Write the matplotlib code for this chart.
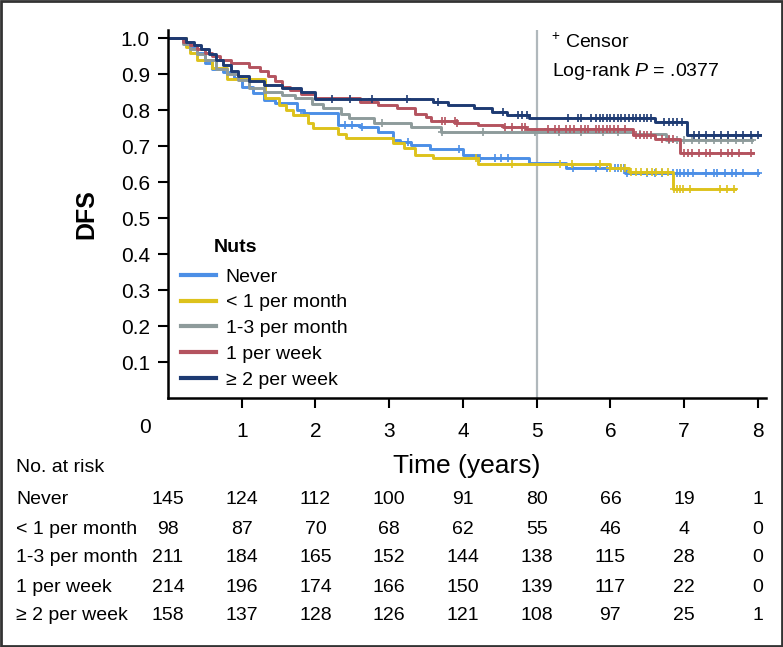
import numpy as np
import matplotlib
matplotlib.use('Agg')
import matplotlib.pyplot as plt
import matplotlib.transforms as mtransforms
from matplotlib.patches import Rectangle

plt.rcParams['font.family'] = ['Liberation Sans', 'DejaVu Sans']
plt.rcParams['mathtext.fontset'] = 'custom'
plt.rcParams['mathtext.it'] = 'Liberation Sans:italic'
plt.rcParams['mathtext.rm'] = 'Liberation Sans'

# Groups
groups = ['Never', '< 1 per month', '1-3 per month', '1 per week', '\u2265 2 per week']
colors = ['#4C8FE6', '#DDC21C', '#8E9B9B', '#B4535F', '#1D3A72']

# Kaplan-Meier steps (time in years, survival after each drop)
never_t = [0, 0.25, 0.3, 0.4, 0.5, 0.6, 0.75, 0.9, 1.0, 1.15, 1.3, 1.45, 1.75, 1.85, 2.3, 2.6,
           2.85, 3.05, 3.15, 3.3, 3.55, 4.0, 4.2, 4.9, 5.4, 6.2]
never_s = [1.0, 0.986, 0.972, 0.958, 0.93, 0.915, 0.905, 0.89, 0.865, 0.848, 0.828, 0.82, 0.80,
           0.792, 0.76, 0.754, 0.74, 0.717, 0.712, 0.703, 0.692, 0.676, 0.667, 0.653, 0.64, 0.625]
never_end = 8.0
never_c = [1.85, 2.4, 2.5, 2.63, 3.26, 3.94, 4.23, 4.43, 4.52, 4.61, 5.49, 5.81, 5.95, 6.06, 6.1,
           6.14, 6.18, 6.22, 6.5, 6.6, 6.7, 6.85, 6.9, 6.95, 7.0, 7.05, 7.12, 7.3, 7.4, 7.45, 7.55,
           7.65, 7.7, 7.8, 8.0]

month_lt1_t = [0, 0.24, 0.3, 0.4, 0.6, 0.8, 1.31, 1.5, 1.6, 1.7, 1.9, 1.97, 2.3, 2.42, 3.05, 3.2,
               3.35, 3.6, 4.2, 6.0, 6.25, 6.85]
month_lt1_s = [1.0, 0.976, 0.96, 0.94, 0.917, 0.887, 0.834, 0.815, 0.8, 0.787, 0.764, 0.75, 0.735,
               0.722, 0.709, 0.695, 0.676, 0.667, 0.65, 0.64, 0.628, 0.58]
month_lt1_end = 7.69
month_lt1_c = [4.18, 4.66, 5.32, 5.48, 5.86, 6.0, 6.14, 6.2, 6.28, 6.35, 6.42, 6.5, 6.56, 6.62, 6.7,
               6.78, 6.86, 6.9, 6.95, 6.99, 7.08, 7.49, 7.58, 7.67]

month_13_t = [0, 0.2, 0.3, 0.4, 0.5, 0.65, 0.8, 0.95, 1.1, 1.3, 1.55, 1.72, 1.95, 2.1, 2.35, 2.45,
              2.8, 3.3, 3.7, 6.3, 6.75]
month_13_s = [1.0, 0.985, 0.97, 0.955, 0.94, 0.915, 0.9, 0.885, 0.862, 0.852, 0.843, 0.834, 0.818,
              0.806, 0.79, 0.778, 0.764, 0.752, 0.74, 0.733, 0.717]
month_13_end = 7.92
month_13_c = [2.9, 3.72, 4.27, 4.98, 5.3, 5.6, 5.9, 6.1, 6.4, 6.8, 6.9, 7.0, 7.1, 7.2, 7.3, 7.4,
              7.5, 7.6, 7.7, 7.8, 7.92]

week1_t = [0, 0.2, 0.3, 0.4, 0.5, 0.6, 0.7, 0.85, 1.1, 1.25, 1.35, 1.45, 1.55, 1.65, 1.8, 2.0,
           2.6, 2.85, 3.1, 3.35, 3.5, 3.57, 3.9, 4.2, 4.55, 4.85, 6.3, 6.6, 6.95]
week1_s = [1.0, 0.99, 0.98, 0.97, 0.96, 0.95, 0.94, 0.93, 0.92, 0.91, 0.895, 0.88, 0.865, 0.855,
           0.845, 0.834, 0.823, 0.815, 0.806, 0.79, 0.78, 0.77, 0.764, 0.759, 0.754, 0.747, 0.731,
           0.72, 0.68]
week1_end = 7.93
week1_c = [3.72, 3.75, 3.89, 3.92, 4.57, 4.66, 4.8, 4.84, 5.15, 5.25, 5.3, 5.4, 5.45, 5.5, 5.6,
           5.65, 5.7, 5.8, 5.85, 5.9, 5.95, 6.0, 6.05, 6.1, 6.2, 6.35, 6.4, 6.45, 6.5, 6.55, 6.7,
           6.8, 6.85, 7.0, 7.05, 7.1, 7.2, 7.3, 7.35, 7.5, 7.6, 7.65, 7.75, 7.9]

week2_t = [0, 0.25, 0.35, 0.45, 0.55, 0.65, 0.75, 0.85, 0.95, 1.1, 1.3, 1.55, 1.8, 2.0, 3.6, 3.8,
           4.15, 4.4, 4.6, 4.9, 6.6, 7.04]
week2_s = [1.0, 0.99, 0.98, 0.97, 0.955, 0.94, 0.925, 0.91, 0.895, 0.88, 0.87, 0.862, 0.851,
           0.831, 0.823, 0.815, 0.806, 0.795, 0.787, 0.778, 0.767, 0.731]
week2_end = 8.03
week2_c = [2.22, 2.47, 2.76, 3.24, 3.66, 4.54, 4.75, 4.8, 4.87, 5.42, 5.56, 5.6, 5.74, 5.8, 5.86,
           5.9, 5.95, 6.0, 6.05, 6.1, 6.15, 6.2, 6.25, 6.3, 6.35, 6.4, 6.45, 6.5, 6.55, 6.72, 6.8,
           6.85, 6.9, 6.97, 7.13, 7.2, 7.3, 7.4, 7.5, 7.6, 7.7, 7.8, 7.9, 8.0]

# Number at risk table
risk_times = [0, 1, 2, 3, 4, 5, 6, 7, 8]
risk_never = [145, 124, 112, 100, 91, 80, 66, 19, 1]
risk_lt1 = [98, 87, 70, 68, 62, 55, 46, 4, 0]
risk_13 = [211, 184, 165, 152, 144, 138, 115, 28, 0]
risk_w1 = [214, 196, 174, 166, 150, 139, 117, 22, 0]
risk_w2 = [158, 137, 128, 126, 121, 108, 97, 25, 1]

curves = [
    (never_t, never_s, never_end, never_c),
    (month_lt1_t, month_lt1_s, month_lt1_end, month_lt1_c),
    (month_13_t, month_13_s, month_13_end, month_13_c),
    (week1_t, week1_s, week1_end, week1_c),
    (week2_t, week2_s, week2_end, week2_c),
]
risk_rows = [risk_never, risk_lt1, risk_13, risk_w1, risk_w2]

W, H = 783, 647
fig = plt.figure(figsize=(W / 100, H / 100), dpi=100)
ax = fig.add_axes([168 / W, 1 - 398 / H, (766 - 168) / W, (398 - 30) / H])

for (t, s, end, cens), col, name in zip(curves, colors, groups):
    t = np.array(t)
    s = np.array(s)
    ax.step(np.append(t, end), np.append(s, s[-1]), where='post', color=col, lw=2.1, label=name)
    c = np.array(cens)
    idx = np.searchsorted(t, c, side='right') - 1
    ax.plot(c, s[idx], ls='none', marker='+', ms=6, mew=1.2, color=col)

# 5-year reference line
ax.axvline(5, color='#B0B8BC', lw=1.6, zorder=0)

ax.set_xlim(0, 8.11)
ax.set_ylim(0, 1.023)
ax.set_xticks([1, 2, 3, 4, 5, 6, 7, 8])
ax.set_yticks(np.arange(0.1, 1.01, 0.1))
ax.set_yticklabels(['%.1f' % v for v in np.arange(0.1, 1.01, 0.1)])
ax.tick_params(axis='both', direction='out', length=7, width=1.5, labelsize=15, pad=6, colors='black')
ax.tick_params(axis='x', pad=10)
for side in ['top', 'right']:
    ax.spines[side].set_visible(False)
for side in ['left', 'bottom']:
    ax.spines[side].set_linewidth(1.8)

ax.text(-0.31, -0.08, '0', transform=ax.get_xaxis_transform(), ha='center', va='center', fontsize=15)
ax.set_ylabel('DFS', fontsize=18, fontweight='bold', labelpad=16)
ax.set_xlabel('Time (years)', fontsize=19, labelpad=10)

# legend
fig.text(214 / W, 1 - 247 / H, 'Nuts', fontsize=14, fontweight='bold', va='center')
leg = ax.legend(loc='upper left', bbox_to_anchor=(181 / W, 1 - 268 / H), bbox_transform=fig.transFigure,
                frameon=False, fontsize=14, handlelength=1.8, handletextpad=0.5, labelspacing=0.42,
                borderaxespad=0, borderpad=0)
for line in leg.get_lines():
    line.set_linewidth(3)

fig.text(551 / W, 1 - 42 / H, '$^{+}$ Censor', fontsize=14, va='center')
fig.text(552 / W, 1 - 71 / H, 'Log-rank $P$ = .0377', fontsize=14, va='center')

# number at risk table
fig.text(16 / W, 1 - 468 / H, 'No. at risk', fontsize=14, va='center')
row_y = [500, 529, 558, 587, 616]
tab = mtransforms.blended_transform_factory(ax.transData, fig.transFigure)
for name, counts, py in zip(groups, risk_rows, row_y):
    fig.text(16 / W, 1 - py / H, name, fontsize=14, va='center')
    for tx, n in zip(risk_times, counts):
        ax.text(tx, 1 - py / H, str(n), transform=tab, ha='center', va='center', fontsize=14)

# frame around the whole figure
fig.add_artist(Rectangle((0.001, 0.001), 0.998, 0.997, transform=fig.transFigure, fill=False,
                         edgecolor='#333333', lw=2))

fig.savefig('out.png', dpi=100)
